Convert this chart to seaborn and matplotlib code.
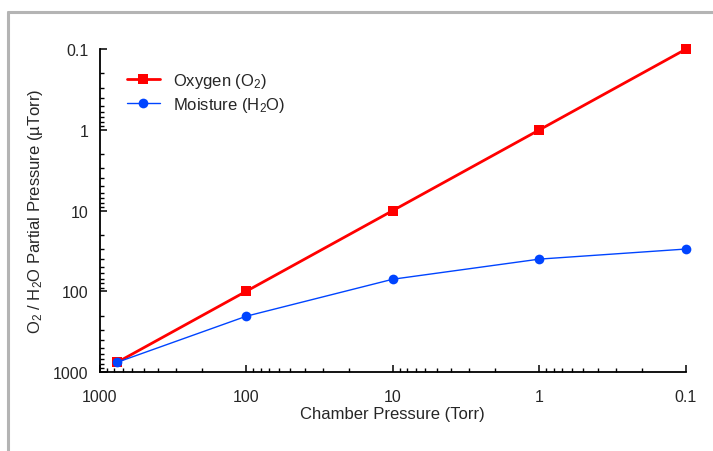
import pandas as pd
import numpy as np
import matplotlib
matplotlib.use("Agg")
import matplotlib.pyplot as plt
from matplotlib.lines import Line2D
from matplotlib.ticker import LogLocator, FixedLocator, FixedFormatter, NullFormatter
import seaborn as sns

# chamber pressure (Torr) and partial pressures (uTorr)
chamber_torr = [760, 100, 10, 1, 0.1]
oxygen_utorr = [760, 100, 10, 1, 0.1]
moisture_utorr = [760, 204, 71, 40, 30]

series_names = ["Oxygen (O$_2$)", "Moisture (H$_2$O)"]
x_ticks = [1000, 100, 10, 1, 0.1]
x_tick_labels = ["1000", "100", "10", "1", "0.1"]
y_ticks = [1000, 100, 10, 1, 0.1]
y_tick_labels = ["1000", "100", "10", "1", "0.1"]

df = pd.DataFrame({
    "chamber": chamber_torr * 2,
    "partial": oxygen_utorr + moisture_utorr,
    "series": [series_names[0]] * len(chamber_torr) + [series_names[1]] * len(chamber_torr),
})

sns.set_style("white")
plt.rcParams["font.family"] = ["Liberation Sans", "DejaVu Sans"]
plt.rcParams["mathtext.fontset"] = "custom"
plt.rcParams["mathtext.rm"] = "Liberation Sans"
plt.rcParams["mathtext.it"] = "Liberation Sans:italic"
plt.rcParams["mathtext.bf"] = "Liberation Sans:bold"

fig = plt.figure(figsize=(7.13, 4.52), dpi=100)
ax = fig.add_axes([0.140, 0.175, 0.822, 0.714])

colors = {series_names[0]: "#ff0000", series_names[1]: "#0044ff"}
sns.lineplot(data=df, x="chamber", y="partial", hue="series", style="series",
             palette=colors, markers={series_names[0]: "s", series_names[1]: "o"},
             dashes=False, ax=ax, legend=False)

# line widths / marker sizes per series
for line, lw, ms in zip(ax.get_lines(), [2.0, 1.0], [7, 7]):
    line.set_linewidth(lw)
    line.set_markersize(ms)
    line.set_markeredgewidth(0)
    line.set_clip_on(False)

ax.set_xscale("log")
ax.set_yscale("log")
ax.set_xlim(1000, 0.1)
ax.set_ylim(1000, 0.1)

ax.xaxis.set_major_locator(FixedLocator(x_ticks))
ax.xaxis.set_major_formatter(FixedFormatter(x_tick_labels))
ax.yaxis.set_major_locator(FixedLocator(y_ticks))
ax.yaxis.set_major_formatter(FixedFormatter(y_tick_labels))
ax.xaxis.set_minor_locator(LogLocator(base=10, subs=np.arange(2, 10), numticks=20))
ax.yaxis.set_minor_locator(LogLocator(base=10, subs=np.arange(2, 10), numticks=20))
ax.xaxis.set_minor_formatter(NullFormatter())
ax.yaxis.set_minor_formatter(NullFormatter())

ax.tick_params(which="major", direction="in", length=5, width=1.1, color="black",
               labelsize=11.5, bottom=True, left=True)
ax.tick_params(which="minor", direction="in", length=3, width=1.0, color="black",
               bottom=True, left=True)
ax.tick_params(axis="x", which="major", pad=12)
ax.tick_params(axis="y", which="major", pad=8)

for side in ["top", "right"]:
    ax.spines[side].set_visible(False)
for side in ["left", "bottom"]:
    ax.spines[side].set_color("black")
    ax.spines[side].set_linewidth(1.3)

ax.set_xlabel("Chamber Pressure (Torr)", fontsize=12, labelpad=2)
ax.set_ylabel("O$_2$ / H$_2$O Partial Pressure (µTorr)", fontsize=12, labelpad=6)

handles = [
    Line2D([], [], color="#ff0000", lw=2.0, marker="s", ms=7, mew=0),
    Line2D([], [], color="#0044ff", lw=1.0, marker="o", ms=7, mew=0),
]
ax.legend(handles, series_names, loc="upper left", bbox_to_anchor=(0.02, 0.98),
          frameon=False, fontsize=12, handlelength=2.0, labelspacing=0.3,
          handletextpad=0.8)

# gray frame around the figure (screenshot border)
fig.add_artist(Line2D([8 / 713, 1.0], [1 - 13 / 452, 1 - 13 / 452],
                      color="#b4b4b4", lw=2.2, transform=fig.transFigure))
fig.add_artist(Line2D([8 / 713, 8 / 713], [0.0, 1 - 13 / 452],
                      color="#b4b4b4", lw=2.2, transform=fig.transFigure))

fig.savefig("out.png", dpi=100)
